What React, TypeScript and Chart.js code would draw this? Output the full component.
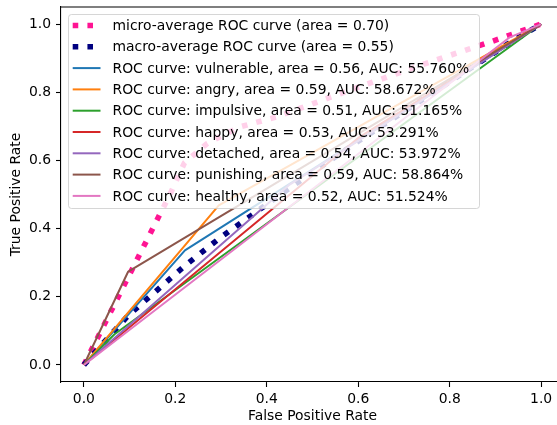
import React, { useEffect, useRef } from "react";
import { Chart, registerables } from "chart.js";

Chart.register(...registerables);

// ---- data ----
const classNames = ["vulnerable", "angry", "impulsive", "happy", "detached", "punishing", "healthy"];
const classArea = ["0.56", "0.59", "0.51", "0.53", "0.54", "0.59", "0.52"];
const classAuc = ["55.760", "58.672", "51.165", "53.291", "53.972", "58.864", "51.524"];
const classFpr = [
  [0, 0.221, 1],
  [0, 0.295, 1],
  [0, 0.067, 1],
  [0, 0.6, 1],
  [0, 0.45, 1],
  [0, 0.097, 1],
  [0, 0.93, 1],
];
const classTpr = [
  [0, 0.336, 1],
  [0, 0.468, 1],
  [0, 0.09, 1],
  [0, 0.666, 1],
  [0, 0.529, 1],
  [0, 0.274, 1],
  [0, 0.96, 1],
];
const classColors = ["#1f77b4", "#ff7f0e", "#2ca02c", "#d62728", "#9467bd", "#8c564b", "#e377c2"];

const microArea = "0.70";
const microFpr = [0, 0.19, 0.22, 0.27, 0.34, 0.42, 0.59, 0.76, 0.89, 1];
const microTpr = [0, 0.505, 0.593, 0.65, 0.698, 0.727, 0.81, 0.89, 0.948, 1];

const macroArea = "0.55";
const macroFpr = [0, 0.067, 0.097, 0.221, 0.295, 0.45, 0.6, 0.93, 1];
const macroTpr = [0, 0.101, 0.145, 0.291, 0.37, 0.519, 0.656, 0.944, 1];

const xTicks = [0, 0.2, 0.4, 0.6, 0.8, 1.0];
const yTicks = [0, 0.2, 0.4, 0.6, 0.8, 1.0];

const FONT = "'DejaVu Sans', sans-serif";
const FS = 13.9;

const toPoints = (xs: number[], ys: number[]) => xs.map((x, i) => ({ x, y: ys[i] }));

const frameAndLegend = {
  id: "frameAndLegend",
  afterDatasetsDraw(chart: any) {
    const ctx = chart.ctx;
    const a = chart.chartArea;
    ctx.save();
    // top & right spines
    ctx.strokeStyle = "#000";
    ctx.lineWidth = 1.1;
    ctx.beginPath();
    ctx.moveTo(a.left, a.top);
    ctx.lineTo(a.right, a.top);
    ctx.lineTo(a.right, a.bottom);
    ctx.stroke();

    // legend box
    const x0 = 68.5, y0 = 14.5, w = 411, h = 194, r = 3;
    ctx.beginPath();
    ctx.moveTo(x0 + r, y0);
    ctx.lineTo(x0 + w - r, y0);
    ctx.arcTo(x0 + w, y0, x0 + w, y0 + r, r);
    ctx.lineTo(x0 + w, y0 + h - r);
    ctx.arcTo(x0 + w, y0 + h, x0 + w - r, y0 + h, r);
    ctx.lineTo(x0 + r, y0 + h);
    ctx.arcTo(x0, y0 + h, x0, y0 + h - r, r);
    ctx.lineTo(x0, y0 + r);
    ctx.arcTo(x0, y0, x0 + r, y0, r);
    ctx.closePath();
    ctx.fillStyle = "rgba(255,255,255,0.8)";
    ctx.fill();
    ctx.strokeStyle = "rgba(204,204,204,0.8)";
    ctx.lineWidth = 1;
    ctx.stroke();

    chart.data.datasets.forEach((ds: any, i: number) => {
      const cy = 25.5 + i * 21.3;
      ctx.beginPath();
      ctx.strokeStyle = ds.borderColor;
      ctx.lineWidth = ds.borderWidth;
      ctx.lineCap = "butt";
      ctx.setLineDash(ds.borderDash || []);
      ctx.moveTo(72.7, cy);
      ctx.lineTo(100.5, cy);
      ctx.stroke();
      ctx.setLineDash([]);
      ctx.fillStyle = "#000";
      ctx.font = `${FS}px ${FONT}`;
      ctx.textBaseline = "middle";
      ctx.textAlign = "left";
      ctx.fillText(ds.label, 112.5, cy + 1);
    });
    ctx.restore();
  },
};

export default function App() {
  const ref = useRef<HTMLCanvasElement>(null);

  useEffect(() => {
    if (!ref.current) return;
    const datasets: any[] = [
      {
        label: `micro-average ROC curve (area = ${microArea})`,
        data: toPoints(microFpr, microTpr),
        borderColor: "#ff1493",
        borderWidth: 5.56,
        borderDash: [5.56, 9.17],
        order: 9,
      },
      {
        label: `macro-average ROC curve (area = ${macroArea})`,
        data: toPoints(macroFpr, macroTpr),
        borderColor: "#000080",
        borderWidth: 5.56,
        borderDash: [5.56, 9.17],
        order: 8,
      },
      ...classNames.map((n, i) => ({
        label: `ROC curve: ${n}, area = ${classArea[i]}, AUC: ${classAuc[i]}%`,
        data: toPoints(classFpr[i], classTpr[i]),
        borderColor: classColors[i],
        borderWidth: 2,
        order: 6 - i,
      })),
    ].map((d) => ({
      ...d,
      showLine: true,
      pointRadius: 0,
      pointHoverRadius: 0,
      tension: 0,
      fill: false,
      borderJoinStyle: "round",
      backgroundColor: d.borderColor,
    }));

    const tickCb = (v: any) => Number(v).toFixed(1);

    const chart = new Chart(ref.current, {
      type: "scatter",
      data: { datasets },
      plugins: [frameAndLegend],
      options: {
        animation: false,
        responsive: false,
        devicePixelRatio: 1,
        layout: { padding: { left: 0, top: 7, right: 6, bottom: 0 } },
        plugins: { legend: { display: false }, tooltip: { enabled: false } },
        font: { family: FONT, size: FS },
        scales: {
          x: {
            type: "linear",
            min: -0.05,
            max: 1.05,
            afterBuildTicks: (s: any) => {
              s.ticks = xTicks.map((v) => ({ value: v }));
            },
            afterFit: (s: any) => {
              s.height = 43;
              s.paddingLeft = 0;
              s.paddingRight = 0;
            },
            grid: { drawOnChartArea: false, drawTicks: true, tickLength: 5, tickColor: "#000", tickWidth: 1.1 },
            border: { display: true, color: "#000", width: 1.1 },
            ticks: { color: "#000", font: { family: FONT, size: FS }, padding: 4, callback: tickCb, maxRotation: 0 },
            title: {
              display: true,
              text: "False Positive Rate",
              color: "#000",
              font: { family: FONT, size: FS },
              padding: { top: 0, bottom: 0 },
            },
          },
          y: {
            type: "linear",
            min: -0.05,
            max: 1.05,
            afterBuildTicks: (s: any) => {
              s.ticks = yTicks.map((v) => ({ value: v }));
            },
            afterFit: (s: any) => {
              s.width = 61;
              s.paddingTop = 0;
              s.paddingBottom = 0;
            },
            grid: { drawOnChartArea: false, drawTicks: true, tickLength: 5, tickColor: "#000", tickWidth: 1.1 },
            border: { display: true, color: "#000", width: 1.1 },
            ticks: { color: "#000", font: { family: FONT, size: FS }, padding: 5, callback: tickCb },
            title: {
              display: true,
              text: "True Positive Rate",
              color: "#000",
              font: { family: FONT, size: FS },
              padding: { top: 8, bottom: 0 },
            },
          },
        },
      } as any,
    });
    return () => chart.destroy();
  }, []);

  return (
    <div style={{ position: "fixed", left: 0, top: 0, width: 557, height: 425, overflow: "hidden", background: "#fff" }}>
      <canvas ref={ref} width={570} height={425} style={{ display: "block", width: 570, height: 425 }} />
    </div>
  );
}
